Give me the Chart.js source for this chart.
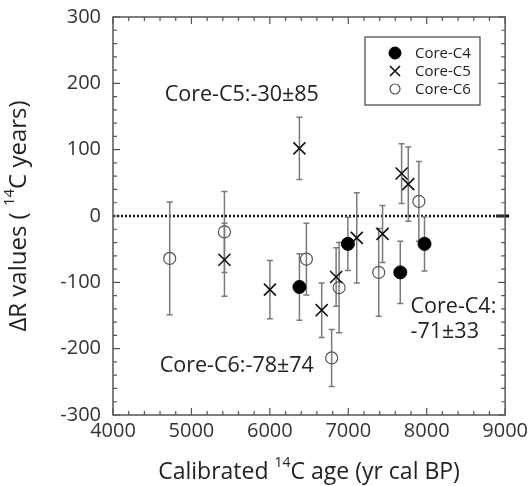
<!DOCTYPE html>
<html>
<head>
<meta charset="utf-8">
<script src="https://cdn.jsdelivr.net/npm/chart.js@4/dist/chart.umd.min.js"></script>
<style>
  html, body { margin: 0; padding: 0; background: #fff; }
  #wrap { width: 532px; height: 486px; }
</style>
</head>
<body>
<div id="wrap"><canvas id="chart" width="532" height="486"></canvas></div>
<script>
/* ===============================
   DATA
================================ */
const c4Age = [6377, 6995, 7663, 7972];
const c4Dr  = [-107, -42, -85, -42];
const c4Err = [50, 40, 47, 41];

const c5Age = [5421, 6001, 6377, 6661, 6845, 7108, 7437, 7680, 7765];
const c5Dr  = [-66, -111, 102, -142, -92, -33, -27, 64, 48];
const c5Err = [55, 44, 47, 41, 44, 68, 43, 45, 56];

const c6Age = [4723, 5421, 6466, 6788, 6883, 7388, 7900];
const c6Dr  = [-64, -24, -65, -214, -108, -85, 22];
const c6Err = [85, 61, 54, 43, 68, 66, 60];

const seriesNames = ["Core-C4", "Core-C5", "Core-C6"];
const xTicks = [4000, 5000, 6000, 7000, 8000, 9000];
const yTicks = [-300, -200, -100, 0, 100, 200, 300];

const FONT = "'Open Sans', 'DejaVu Sans', sans-serif";
const barColor = "#7a7a7a";
const frameColor = "#555";

function toPoints(ages, vals, errs) {
  return ages.map((x, i) => ({ x: x, y: vals[i], err: errs[i] }));
}

/* -------------------------------
   Text with a superscript part
-------------------------------- */
function drawRich(ctx, parts, cx, cy, size) {
  const supSize = Math.round(size * 0.62);
  let total = 0;
  parts.forEach(p => {
    ctx.font = `${p.sup ? supSize : size}px ${FONT}`;
    p.w = ctx.measureText(p.t).width;
    total += p.w;
  });
  let x = cx - total / 2;
  ctx.textAlign = "left";
  ctx.textBaseline = "middle";
  parts.forEach(p => {
    ctx.font = `${p.sup ? supSize : size}px ${FONT}`;
    ctx.fillText(p.t, x, p.sup ? cy - size * 0.38 : cy);
    x += p.w;
  });
}

/* -------------------------------
   Error bars + zero line
-------------------------------- */
const errorBars = {
  id: "errorBars",
  beforeDatasetsDraw(chart) {
    const { ctx, scales: { x, y }, chartArea } = chart;
    ctx.save();

    // dotted zero line
    const y0 = y.getPixelForValue(0);
    ctx.strokeStyle = "#111";
    ctx.lineWidth = 2.5;
    ctx.setLineDash([2, 2]);
    ctx.beginPath();
    ctx.moveTo(chartArea.left, y0);
    ctx.lineTo(chartArea.right - 8, y0);
    ctx.stroke();
    ctx.setLineDash([]);
    ctx.lineWidth = 3;
    ctx.beginPath();
    ctx.moveTo(chartArea.right - 9, y0);
    ctx.lineTo(chartArea.right + 4, y0);
    ctx.stroke();

    ctx.strokeStyle = barColor;
    ctx.lineWidth = 1.5;
    chart.data.datasets.forEach(ds => {
      ds.data.forEach(p => {
        const px = x.getPixelForValue(p.x);
        const top = y.getPixelForValue(p.y + p.err);
        const bot = y.getPixelForValue(p.y - p.err);
        ctx.beginPath();
        ctx.moveTo(px, top);
        ctx.lineTo(px, bot);
        ctx.moveTo(px - 3, top);
        ctx.lineTo(px + 3, top);
        ctx.moveTo(px - 3, bot);
        ctx.lineTo(px + 3, bot);
        ctx.stroke();
      });
    });
    ctx.restore();
  }
};

/* -------------------------------
   Frame, inward ticks, titles, notes, legend
-------------------------------- */
const decorations = {
  id: "decorations",
  afterDraw(chart) {
    const { ctx, scales: { x, y }, chartArea: a } = chart;
    ctx.save();

    // frame
    ctx.strokeStyle = frameColor;
    ctx.lineWidth = 1.5;
    ctx.strokeRect(a.left, a.top, a.right - a.left, a.bottom - a.top);

    // inward ticks on all four sides
    ctx.lineWidth = 1.2;
    ctx.beginPath();
    for (let v = 4000; v <= 9000; v += 200) {
      const px = x.getPixelForValue(v);
      const len = v % 1000 === 0 ? 7 : 4;
      ctx.moveTo(px, a.bottom); ctx.lineTo(px, a.bottom - len);
      ctx.moveTo(px, a.top); ctx.lineTo(px, a.top + len);
    }
    for (let v = -300; v <= 300; v += 20) {
      const py = y.getPixelForValue(v);
      const len = v % 100 === 0 ? 7 : 4;
      ctx.moveTo(a.left, py); ctx.lineTo(a.left + len, py);
      ctx.moveTo(a.right, py); ctx.lineTo(a.right - len, py);
    }
    ctx.stroke();

    // axis titles
    ctx.fillStyle = "#222";
    drawRich(ctx, [
      { t: "Calibrated " }, { t: "14", sup: true }, { t: "C age (yr cal BP)" }
    ], (a.left + a.right) / 2, 472, 23);

    ctx.save();
    ctx.translate(19, (a.top + a.bottom) / 2);
    ctx.rotate(-Math.PI / 2);
    drawRich(ctx, [
      { t: "\u0394R values ( " }, { t: "14", sup: true }, { t: "C years)" }
    ], 0, 0, 24);
    ctx.restore();

    // mean values written on the plot
    ctx.font = `21.5px ${FONT}`;
    ctx.textAlign = "left";
    ctx.textBaseline = "middle";
    ctx.fillStyle = "#222";
    ctx.fillText("Core-C5:-30\u00b185", x.getPixelForValue(4660), y.getPixelForValue(182));
    ctx.fillText("Core-C6:-78\u00b174", x.getPixelForValue(4596), y.getPixelForValue(-226));
    ctx.fillText("Core-C4:", x.getPixelForValue(7794), y.getPixelForValue(-137));
    ctx.fillText("-71\u00b133", x.getPixelForValue(7794), y.getPixelForValue(-175));

    // legend box
    const lx = 365, ly = 37, lw = 115, lh = 68;
    ctx.fillStyle = "#fff";
    ctx.fillRect(lx, ly, lw, lh);
    ctx.strokeStyle = "#444";
    ctx.lineWidth = 1.2;
    ctx.strokeRect(lx, ly, lw, lh);
    ctx.font = `15px ${FONT}`;
    chart.data.datasets.forEach((ds, i) => {
      const cy = ly + 16 + i * 18;
      const cx = lx + 30;
      ctx.strokeStyle = ds.borderColor;
      ctx.fillStyle = ds.backgroundColor;
      ctx.lineWidth = ds.borderWidth;
      if (ds.pointStyle === "crossRot") {
        ctx.beginPath();
        ctx.moveTo(cx - 5, cy - 5); ctx.lineTo(cx + 5, cy + 5);
        ctx.moveTo(cx + 5, cy - 5); ctx.lineTo(cx - 5, cy + 5);
        ctx.stroke();
      } else {
        ctx.beginPath();
        ctx.arc(cx, cy, i === 0 ? 6 : 5, 0, Math.PI * 2);
        ctx.fill();
        ctx.stroke();
      }
      ctx.fillStyle = "#222";
      ctx.fillText(seriesNames[i], lx + 50, cy + 1);
    });

    ctx.restore();
  }
};

/* ===============================
   CHART
================================ */
new Chart(document.getElementById("chart"), {
  type: "scatter",
  data: {
    datasets: [
      {
        label: seriesNames[0],
        data: toPoints(c4Age, c4Dr, c4Err),
        pointStyle: "circle",
        pointRadius: 6.5,
        backgroundColor: "#000",
        borderColor: "#000",
        borderWidth: 1
      },
      {
        label: seriesNames[1],
        data: toPoints(c5Age, c5Dr, c5Err),
        pointStyle: "crossRot",
        pointRadius: 8.5,
        backgroundColor: "#111",
        borderColor: "#111",
        borderWidth: 1.6
      },
      {
        label: seriesNames[2],
        data: toPoints(c6Age, c6Dr, c6Err),
        pointStyle: "circle",
        pointRadius: 6,
        backgroundColor: "rgba(255,255,255,0)",
        borderColor: "#555",
        borderWidth: 1.2
      }
    ]
  },
  options: {
    responsive: false,
    animation: false,
    layout: { padding: { top: 17, right: 25, left: 0, bottom: 0 } },
    plugins: {
      legend: { display: false },
      tooltip: { enabled: false }
    },
    scales: {
      x: {
        type: "linear",
        min: 4000,
        max: 9000,
        afterFit: s => { s.height = 71; },
        afterBuildTicks: s => { s.ticks = xTicks.map(v => ({ value: v })); },
        grid: { display: false, drawTicks: false },
        border: { display: false },
        ticks: {
          padding: 4,
          color: "#333",
          font: { family: FONT, size: 20 },
          callback: v => String(v)
        }
      },
      y: {
        type: "linear",
        min: -300,
        max: 300,
        afterFit: s => {
          s.width = 113;
          // let the layout padding alone decide the top edge
          s.paddingTop = 0;
          s.paddingBottom = 0;
        },
        afterBuildTicks: s => { s.ticks = yTicks.map(v => ({ value: v })); },
        grid: { display: false, drawTicks: false },
        border: { display: false },
        ticks: {
          padding: 12,
          color: "#333",
          font: { family: FONT, size: 20 },
          callback: v => String(v)
        }
      }
    }
  },
  plugins: [errorBars, decorations]
});
</script>
</body>
</html>
